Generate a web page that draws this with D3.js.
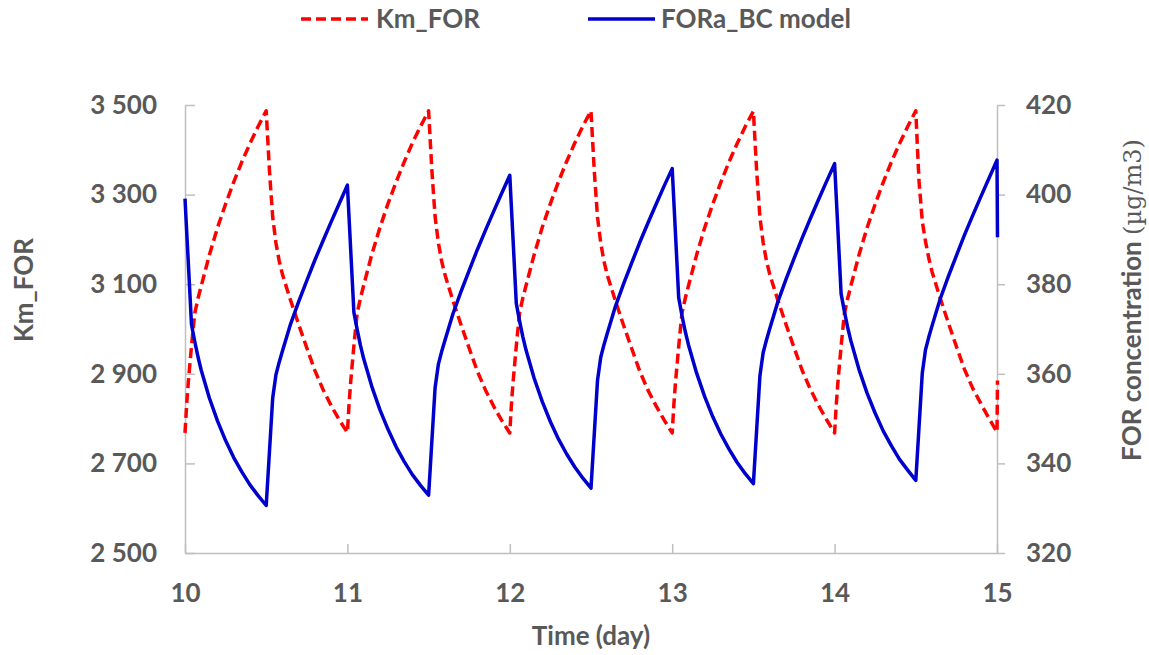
<!DOCTYPE html>
<html>
<head>
<meta charset="utf-8">
<script src="https://cdn.jsdelivr.net/npm/d3@7"></script>
<style>
  body { margin: 0; background: #fff; }
  svg { display: block; font-family: Lato, "Open Sans", sans-serif; }
</style>
</head>
<body>
<svg id="chart"></svg>
<script>
const width = 1149
const height = 655

// time (day), denser around the jumps
const days = [
  10, 10.01, 10.02, 10.04, 10.06, 10.08, 10.1, 10.15, 10.2, 10.25, 10.3, 10.35, 10.4, 10.45, 10.5, 10.51, 10.52, 10.54, 10.56, 10.58, 10.6, 10.65, 10.7, 10.75, 10.8, 10.85, 10.9, 10.95,
  11, 11.01, 11.02, 11.04, 11.06, 11.08, 11.1, 11.15, 11.2, 11.25, 11.3, 11.35, 11.4, 11.45, 11.5, 11.51, 11.52, 11.54, 11.56, 11.58, 11.6, 11.65, 11.7, 11.75, 11.8, 11.85, 11.9, 11.95,
  12, 12.01, 12.02, 12.04, 12.06, 12.08, 12.1, 12.15, 12.2, 12.25, 12.3, 12.35, 12.4, 12.45, 12.5, 12.51, 12.52, 12.54, 12.56, 12.58, 12.6, 12.65, 12.7, 12.75, 12.8, 12.85, 12.9, 12.95,
  13, 13.01, 13.02, 13.04, 13.06, 13.08, 13.1, 13.15, 13.2, 13.25, 13.3, 13.35, 13.4, 13.45, 13.5, 13.51, 13.52, 13.54, 13.56, 13.58, 13.6, 13.65, 13.7, 13.75, 13.8, 13.85, 13.9, 13.95,
  14, 14.01, 14.02, 14.04, 14.06, 14.08, 14.1, 14.15, 14.2, 14.25, 14.3, 14.35, 14.4, 14.45, 14.5, 14.51, 14.52, 14.54, 14.56, 14.58, 14.6, 14.65, 14.7, 14.75, 14.8, 14.85, 14.9, 14.95,
  15, 15.003
]

// Km_FOR (left axis)
const kmFor = [
  2768, 2830, 2880, 2962, 3035, 3068, 3096, 3165, 3226, 3279, 3328, 3373, 3414, 3452, 3487, 3420, 3354, 3250, 3192, 3152, 3122, 3064, 3010, 2958, 2907, 2865, 2829, 2797,
  2769, 2831, 2881, 2963, 3035, 3068, 3097, 3166, 3226, 3280, 3328, 3373, 3415, 3452, 3487, 3421, 3355, 3251, 3193, 3152, 3122, 3063, 3009, 2957, 2906, 2864, 2828, 2796,
  2768, 2832, 2881, 2962, 3036, 3069, 3097, 3166, 3227, 3280, 3329, 3374, 3415, 3453, 3487, 3420, 3354, 3250, 3192, 3151, 3121, 3063, 3009, 2957, 2906, 2864, 2829, 2797,
  2768, 2830, 2880, 2961, 3035, 3068, 3096, 3165, 3226, 3279, 3328, 3373, 3414, 3452, 3486, 3419, 3353, 3250, 3193, 3153, 3123, 3065, 3011, 2959, 2908, 2866, 2830, 2798,
  2768, 2830, 2879, 2961, 3034, 3067, 3096, 3165, 3226, 3279, 3328, 3373, 3414, 3452, 3487, 3405, 3330, 3240, 3195, 3158, 3128, 3069, 3014, 2961, 2910, 2868, 2834, 2801,
  2770, 2885
]

// FORa_BC model (right axis)
const foraBC = [
  399.1, 392.0, 385.1, 371.0, 367.2, 363.8, 360.8, 354.6, 349.5, 345.1, 341.3, 338.1, 335.2, 332.8, 330.6, 336.6, 342.6, 354.6, 359.8, 362.6, 365.1, 371.1, 376.1, 380.8, 385.4, 389.7, 393.9, 398.0,
  402.1, 395.0, 387.9, 373.7, 369.9, 366.4, 363.4, 357.2, 352.0, 347.6, 343.7, 340.4, 337.5, 335.1, 332.9, 338.9, 344.9, 356.9, 362.1, 364.9, 367.4, 373.4, 378.4, 383.1, 387.7, 392.0, 396.2, 400.3,
  404.3, 397.1, 390.0, 375.7, 371.8, 368.3, 365.3, 359.0, 353.8, 349.3, 345.4, 342.1, 339.2, 336.7, 334.5, 340.5, 346.5, 358.5, 363.7, 366.5, 369.0, 375.0, 380.0, 384.7, 389.3, 393.6, 397.8, 401.9,
  405.8, 398.6, 391.4, 377.0, 373.0, 369.5, 366.5, 360.2, 354.9, 350.4, 346.5, 343.2, 340.2, 337.7, 335.5, 341.5, 347.5, 359.5, 364.7, 367.5, 370.0, 376.0, 381.0, 385.7, 390.3, 394.6, 398.8, 402.9,
  406.9, 399.6, 392.4, 377.9, 374.0, 370.4, 367.4, 361.0, 355.7, 351.2, 347.2, 343.9, 340.9, 338.5, 336.2, 342.2, 348.2, 360.2, 365.4, 368.2, 370.7, 376.7, 381.7, 386.4, 391.0, 395.3, 399.5, 403.6,
  407.7, 390.5
]

const xTicks = [10, 11, 12, 13, 14, 15]
const leftTicks = [2500, 2700, 2900, 3100, 3300, 3500]
const rightTicks = [320, 340, 360, 380, 400, 420]

const margin = {top: 105, right: 152, bottom: 102, left: 185}
const textColor = "#595959"
const axisColor = "#bfbfbf"
const fontSize = 26

const svg = d3.select("#chart")
    .attr("width", width)
    .attr("height", height)

const x = d3.scaleLinear().domain([10, 15]).range([margin.left, width - margin.right])
const yL = d3.scaleLinear().domain([2500, 3500]).range([height - margin.bottom, margin.top])
const yR = d3.scaleLinear().domain([320, 420]).range([height - margin.bottom, margin.top])

const fmt = d => d3.format(",")(d).replace(",", " ")

function styleAxis(g) {
  g.select(".domain").attr("stroke", axisColor).attr("stroke-width", 1.5)
  g.selectAll(".tick line").attr("stroke", axisColor).attr("stroke-width", 1.5)
  g.selectAll(".tick text")
      .attr("fill", textColor)
      .attr("font-size", fontSize)
      .attr("font-weight", "bold")
      .attr("font-family", "Lato, sans-serif")
}

// bottom axis
svg.append("g")
    .attr("transform", `translate(0,${height - margin.bottom})`)
    .call(d3.axisBottom(x).tickValues(xTicks).tickFormat(d3.format("d")).tickSize(-9).tickSizeOuter(0))
    .call(styleAxis)
    .call(g => g.selectAll(".tick text").attr("y", 40).attr("dy", "0.35em"))

// left axis
svg.append("g")
    .attr("transform", `translate(${margin.left},0)`)
    .call(d3.axisLeft(yL).tickValues(leftTicks).tickFormat(fmt).tickSize(-10).tickSizeOuter(0).tickPadding(28))
    .call(styleAxis)

// right axis
svg.append("g")
    .attr("transform", `translate(${width - margin.right},0)`)
    .call(d3.axisRight(yR).tickValues(rightTicks).tickSize(8).tickSizeOuter(0).tickPadding(21))
    .call(styleAxis)

const pts = days.map((d, i) => ({t: d, km: kmFor[i], fb: foraBC[i]}))

const lineKm = d3.line().x(d => x(d.t)).y(d => yL(d.km))
const lineFb = d3.line().x(d => x(d.t)).y(d => yR(d.fb))

svg.append("path")
    .datum(pts)
    .attr("fill", "none")
    .attr("stroke", "#ff0000")
    .attr("stroke-width", 3.5)
    .attr("stroke-linejoin", "round")
    .attr("stroke-dasharray", "10,5")
    .attr("d", lineKm)

svg.append("path")
    .datum(pts)
    .attr("fill", "none")
    .attr("stroke", "#0000cc")
    .attr("stroke-width", 3.5)
    .attr("stroke-linejoin", "round")
    .attr("d", lineFb)

// axis titles
svg.append("text")
    .attr("x", (margin.left + width - margin.right) / 2)
    .attr("y", 636)
    .attr("dy", "0.35em")
    .attr("text-anchor", "middle")
    .attr("fill", textColor)
    .attr("font-size", fontSize)
    .attr("font-weight", "bold")
    .text("Time (day)")

svg.append("text")
    .attr("transform", "translate(24,290) rotate(-90)")
    .attr("dy", "0.35em")
    .attr("text-anchor", "middle")
    .attr("fill", textColor)
    .attr("font-size", fontSize)
    .attr("font-weight", "bold")
    .text("Km_FOR")

const rTitle = svg.append("text")
    .attr("transform", "translate(1132,300) rotate(-90)")
    .attr("dy", "0.35em")
    .attr("text-anchor", "middle")
    .attr("fill", textColor)
    .attr("font-size", fontSize)
    .attr("font-weight", "bold")
rTitle.append("tspan").text("FOR concentration ")
rTitle.append("tspan")
    .attr("font-family", "'DejaVu Serif', 'Liberation Serif', serif")
    .attr("font-weight", "normal")
    .attr("font-size", 24)
    .text("(µg/m3)")

// legend
const legend = svg.append("g").attr("font-size", fontSize).attr("font-weight", "bold").attr("fill", textColor)

legend.append("line")
    .attr("x1", 301).attr("x2", 368).attr("y1", 19).attr("y2", 19)
    .attr("stroke", "#ff0000").attr("stroke-width", 3.5).attr("stroke-dasharray", "10,5")
legend.append("text").attr("x", 376).attr("y", 19).attr("dy", "0.35em").text("Km_FOR")

legend.append("line")
    .attr("x1", 588).attr("x2", 655).attr("y1", 19).attr("y2", 19)
    .attr("stroke", "#0000cc").attr("stroke-width", 3.5)
legend.append("text").attr("x", 661).attr("y", 19).attr("dy", "0.35em").text("FORa_BC model")
</script>
</body>
</html>
